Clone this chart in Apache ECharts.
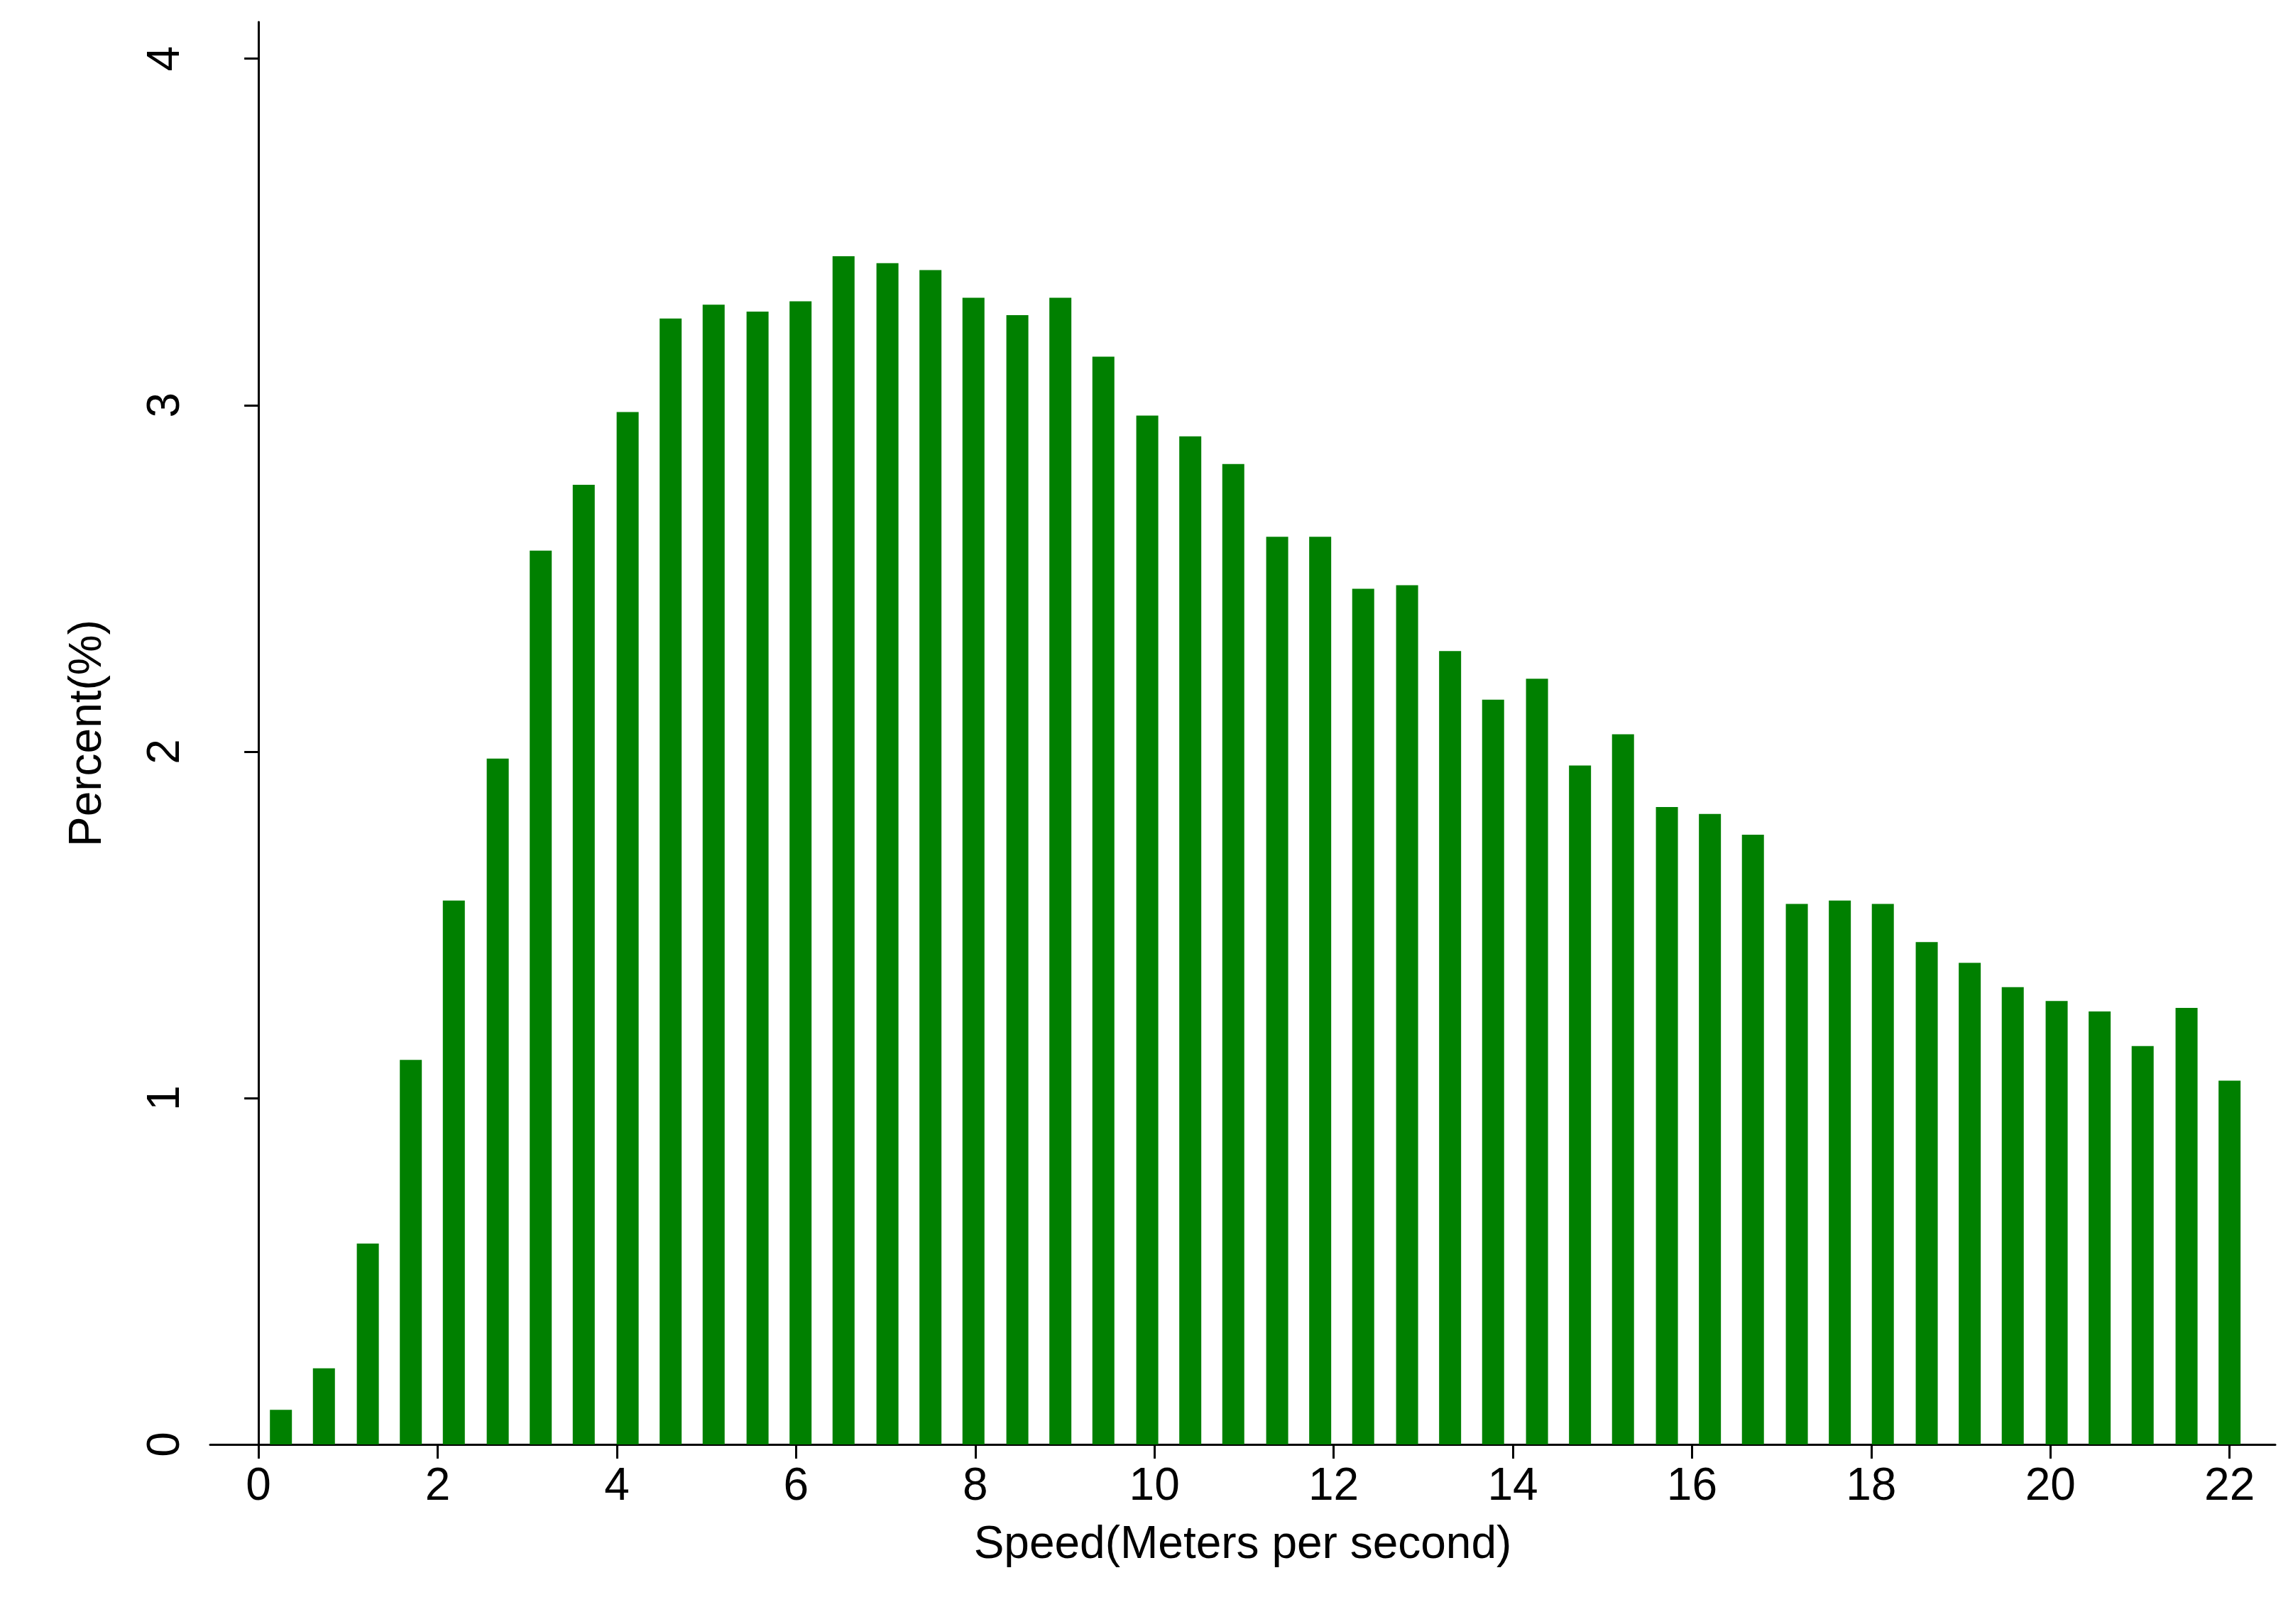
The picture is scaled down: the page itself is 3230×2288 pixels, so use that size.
<!DOCTYPE html>
<html>
<head>
<meta charset="utf-8">
<script src="https://cdn.jsdelivr.net/npm/echarts@6/dist/echarts.min.js"></script>
<style>html,body{margin:0;padding:0;background:#fff}</style>
</head>
<body>
<div id="main" style="width:3230px;height:2288px;"></div>
<script>
var speeds = [0.25,0.73,1.22,1.70,2.18,2.67,3.15,3.63,4.12,4.60,5.08,5.57,6.05,6.53,7.02,7.50,7.98,8.47,8.95,9.43,9.92,10.40,10.88,11.37,11.85,12.33,12.82,13.30,13.78,14.27,14.75,15.23,15.72,16.20,16.68,17.17,17.65,18.13,18.62,19.10,19.58,20.07,20.55,21.03,21.52,22.00];
var percents = [0.10,0.22,0.58,1.11,1.57,1.98,2.58,2.77,2.98,3.25,3.29,3.27,3.30,3.43,3.41,3.39,3.31,3.26,3.31,3.14,2.97,2.91,2.83,2.62,2.62,2.47,2.48,2.29,2.15,2.21,1.96,2.05,1.84,1.82,1.76,1.56,1.57,1.56,1.45,1.39,1.32,1.28,1.25,1.15,1.26,1.05];
var xTicks = [0,2,4,6,8,10,12,14,16,18,20,22];
var yTicks = [0,1,2,3,4];

var chart = echarts.init(document.getElementById('main'));
var font = 'Liberation Sans, Arial, sans-serif';
var data = [];
for (var i = 0; i < speeds.length; i++) data.push([speeds[i], percents[i]]);

chart.setOption({
    animation: false,
    grid: {left: 296, right: 25, top: 31, bottom: 253},
    xAxis: {
        type: 'value', min: -0.54, max: 22.51,
        name: 'Speed(Meters per second)', nameLocation: 'middle', nameGap: 110,
        nameTextStyle: {fontFamily: font, fontSize: 64, color: '#000'},
        axisLine: {show: true, lineStyle: {color: '#000', width: 3}},
        axisTick: {show: true, length: 20, lineStyle: {color: '#000', width: 3}, customValues: xTicks},
        axisLabel: {fontFamily: font, fontSize: 64, color: '#000', margin: 28, customValues: xTicks},
        splitLine: {show: false}
    },
    yAxis: {
        type: 'value', min: 0, max: 4.106,
        name: 'Percent(%)', nameLocation: 'middle', nameGap: 140,
        nameTextStyle: {fontFamily: font, fontSize: 64, color: '#000'},
        axisLine: {show: true, lineStyle: {color: '#000', width: 3}},
        axisTick: {show: true, length: 20, lineStyle: {color: '#000', width: 3}, customValues: yTicks},
        axisLabel: {fontFamily: font, fontSize: 64, color: '#000', margin: 30, rotate: 90, customValues: yTicks},
        splitLine: {show: false}
    },
    series: [{
        type: 'bar',
        data: data,
        barWidth: 31,
        itemStyle: {color: '#008000'}
    }]
});
</script>
</body>
</html>
